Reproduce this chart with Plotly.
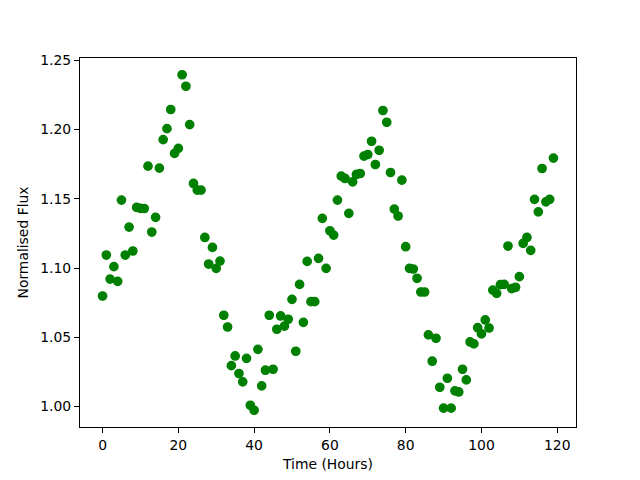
import plotly.graph_objects as go

hours = list(range(120))
flux = [
    1.0798, 1.1094, 1.0920, 1.1010, 1.0904, 1.1491, 1.1094, 1.1296, 1.1123, 1.1438,
    1.1431, 1.1430, 1.1736, 1.1260, 1.1366, 1.1722, 1.1928, 1.2007, 1.2145, 1.1828,
    1.1864, 1.2396, 1.2313, 1.2036, 1.1611, 1.1563, 1.1563, 1.1221, 1.1029, 1.1149,
    1.0998, 1.1050, 1.0659, 1.0574, 1.0295, 1.0365, 1.0238, 1.0178, 1.0348, 1.0009,
    0.9973, 1.0413, 1.0149, 1.0262, 1.0659, 1.0269, 1.0558, 1.0654, 1.0580, 1.0630,
    1.0774, 1.0399, 1.0882, 1.0608, 1.1048, 1.0757, 1.0757, 1.1070, 1.1359, 1.0998,
    1.1269, 1.1238, 1.1491, 1.1664, 1.1647, 1.1395, 1.1623, 1.1676, 1.1683, 1.1808,
    1.1820, 1.1916, 1.1748, 1.1851, 1.2138, 1.2053, 1.1690, 1.1426, 1.1376, 1.1635,
    1.1154, 1.0998, 1.0993, 1.0926, 1.0827, 1.0827, 1.0517, 1.0327, 1.0493, 1.0139,
    0.9988, 1.0204, 0.9988, 1.0113, 1.0105, 1.0269, 1.0192, 1.0466, 1.0452, 1.0569,
    1.0524, 1.0625, 1.0567, 1.0841, 1.0817, 1.0880, 1.0882, 1.1159, 1.0851, 1.0861,
    1.0938, 1.1178, 1.1221, 1.1128, 1.1496, 1.1406, 1.1719, 1.1478, 1.1496, 1.1794,
]
x_ticks = [0, 20, 40, 60, 80, 100, 120]
y_ticks = [1.00, 1.05, 1.10, 1.15, 1.20, 1.25]

xmin, xmax = min(hours), max(hours)
ymin, ymax = min(flux), max(flux)
xpad = 0.05 * (xmax - xmin)
ypad = 0.05 * (ymax - ymin)

fig = go.Figure(go.Scatter(
    x=hours, y=flux, mode="markers",
    marker=dict(color="#008000", size=8.3, line=dict(color="#008000", width=1.4)),
))

axis_common = dict(
    showline=True, linecolor="black", linewidth=1, mirror=True,
    ticks="outside", ticklen=5, tickwidth=1, tickcolor="black",
    showgrid=False, zeroline=False,
    tickfont=dict(family="DejaVu Sans", size=13.9, color="black"),
    title_font=dict(family="DejaVu Sans", size=13.9, color="black"),
)

fig.update_layout(
    width=632, height=472,
    margin=dict(l=72, r=64, t=50, b=53),
    paper_bgcolor="white", plot_bgcolor="white",
    showlegend=False,
    xaxis=dict(range=[xmin - xpad, xmax + xpad], tickvals=x_ticks,
               ticktext=[str(v) for v in x_ticks],
               title=dict(text="Time (Hours)", standoff=7), **axis_common),
    yaxis=dict(range=[ymin - ypad, ymax + ypad], tickvals=y_ticks,
               ticktext=[f"{v:.2f}" for v in y_ticks],
               title=dict(text="Normalised Flux", standoff=8), **axis_common),
)

fig.write_html("out.html")
